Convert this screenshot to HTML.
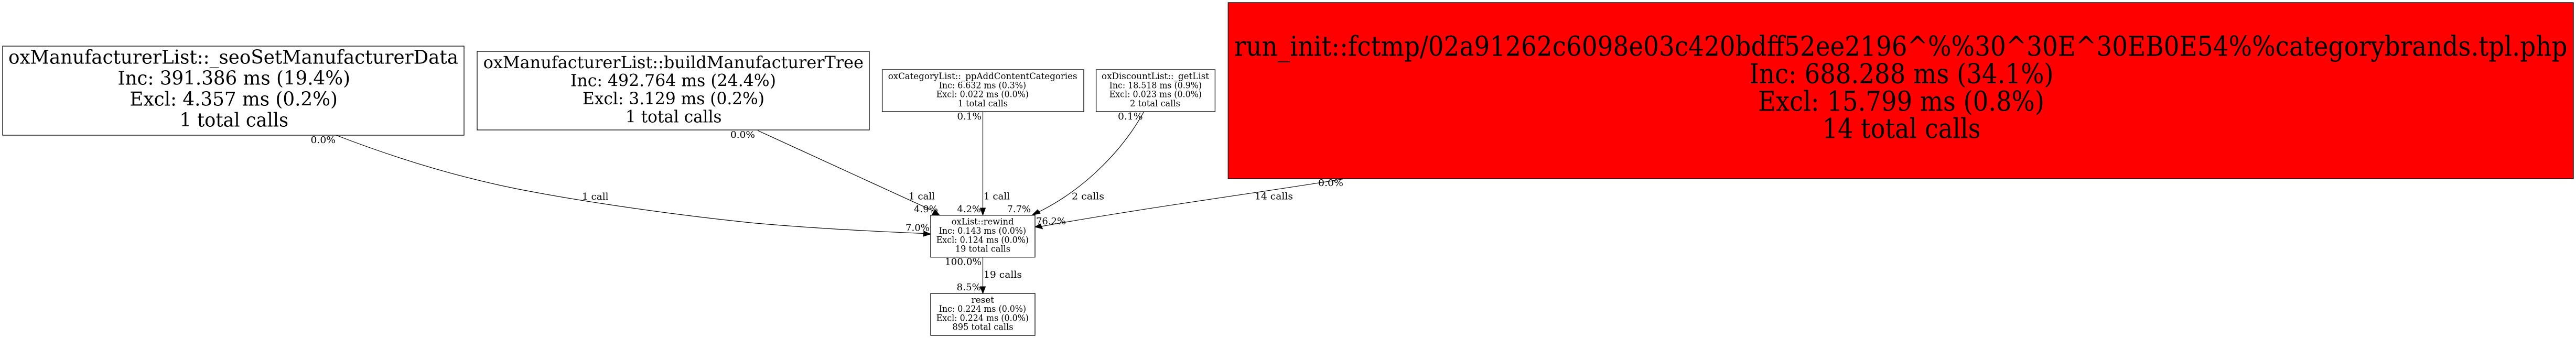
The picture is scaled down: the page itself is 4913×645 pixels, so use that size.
<!DOCTYPE html>
<html lang="en">
<head>
<meta charset="utf-8">
<title>Call graph</title>
<style>
html,body{margin:0;padding:0;background:#fff;width:4913px;height:645px;overflow:hidden}
svg{display:block}
text{font-family:"DejaVu Serif","Liberation Serif",serif;fill:#000}
.a text{font-size:36.5px}
.b text{font-size:32px}
.s text{font-size:16.6px}
.r text{font-size:52.5px}
.l text{font-size:18px}
rect{stroke:#000;stroke-width:1.3}
path.e{fill:none;stroke:#000;stroke-width:1.2}
polygon{fill:#000;stroke:#000;stroke-width:1}
</style>
</head>
<body>
<svg xmlns="http://www.w3.org/2000/svg" width="4913" height="645" viewBox="0 0 4913 645">
<rect x="0" y="0" width="4913" height="645" style="fill:#fff;stroke:none"/>

<!-- nodes -->
<g class="a">
<rect x="5" y="88" width="880" height="170" fill="#fff"/>
<text x="16" y="121.7" textLength="858" lengthAdjust="spacingAndGlyphs">oxManufacturerList::_seoSetManufacturerData</text>
<text x="224.5" y="161.7" textLength="443.5" lengthAdjust="spacingAndGlyphs">Inc: 391.386 ms (19.4%)</text>
<text x="247.4" y="201.7" textLength="396.6" lengthAdjust="spacingAndGlyphs">Excl: 4.357 ms (0.2%)</text>
<text x="342.5" y="241.7" textLength="207.5" lengthAdjust="spacingAndGlyphs">1 total calls</text>
</g>

<g class="b">
<rect x="910" y="98" width="748" height="150" fill="#fff"/>
<text x="921.6" y="130" textLength="725.4" lengthAdjust="spacingAndGlyphs">oxManufacturerList::buildManufacturerTree</text>
<text x="1088" y="164.5" textLength="392" lengthAdjust="spacingAndGlyphs">Inc: 492.764 ms (24.4%)</text>
<text x="1111" y="199" textLength="347" lengthAdjust="spacingAndGlyphs">Excl: 3.129 ms (0.2%)</text>
<text x="1193" y="233.5" textLength="183.5" lengthAdjust="spacingAndGlyphs">1 total calls</text>
</g>

<g class="s">
<rect x="1682.6" y="133" width="384.4" height="80" fill="#fff"/>
<text x="1693.7" y="151" textLength="360.8" lengthAdjust="spacingAndGlyphs">oxCategoryList::_ppAddContentCategories</text>
<text x="1790.6" y="168.3" textLength="166.4" lengthAdjust="spacingAndGlyphs">Inc: 6.632 ms (0.3%)</text>
<text x="1785.7" y="185.6" textLength="176.3" lengthAdjust="spacingAndGlyphs">Excl: 0.022 ms (0.0%)</text>
<text x="1826.8" y="202.9" textLength="95.2" lengthAdjust="spacingAndGlyphs">1 total calls</text>

<rect x="2090.6" y="133" width="226.8" height="80" fill="#fff"/>
<text x="2101" y="151" textLength="205" lengthAdjust="spacingAndGlyphs">oxDiscountList::_getList</text>
<text x="2115.6" y="168.3" textLength="176.4" lengthAdjust="spacingAndGlyphs">Inc: 18.518 ms (0.9%)</text>
<text x="2115.6" y="185.6" textLength="176.4" lengthAdjust="spacingAndGlyphs">Excl: 0.023 ms (0.0%)</text>
<text x="2155" y="202.9" textLength="96" lengthAdjust="spacingAndGlyphs">2 total calls</text>

<rect x="1775" y="410.7" width="199" height="80" fill="#fff"/>
<text x="1814.7" y="428.7" textLength="118.8" lengthAdjust="spacingAndGlyphs">oxList::rewind</text>
<text x="1790.6" y="446" textLength="166.4" lengthAdjust="spacingAndGlyphs">Inc: 0.143 ms (0.0%)</text>
<text x="1785.7" y="463.3" textLength="176.3" lengthAdjust="spacingAndGlyphs">Excl: 0.124 ms (0.0%)</text>
<text x="1821.9" y="480.6" textLength="105.1" lengthAdjust="spacingAndGlyphs">19 total calls</text>

<rect x="1775" y="560" width="199" height="80" fill="#fff"/>
<text x="1852.7" y="577.8" textLength="43.3" lengthAdjust="spacingAndGlyphs">reset</text>
<text x="1790.6" y="595.1" textLength="166.4" lengthAdjust="spacingAndGlyphs">Inc: 0.224 ms (0.0%)</text>
<text x="1785.7" y="612.4" textLength="176.3" lengthAdjust="spacingAndGlyphs">Excl: 0.224 ms (0.0%)</text>
<text x="1816.5" y="629.7" textLength="116.1" lengthAdjust="spacingAndGlyphs">895 total calls</text>
</g>

<g class="r">
<rect x="2342.3" y="5" width="2565.7" height="336" fill="#ff0000"/>
<text x="2354" y="106.7" textLength="2542.5" lengthAdjust="spacingAndGlyphs">run_init::fctmp/02a91262c6098e03c420bdff52ee2196^%%30^30E^30EB0E54%%categorybrands.tpl.php</text>
<text x="3336.5" y="159.2" textLength="580.1" lengthAdjust="spacingAndGlyphs">Inc: 688.288 ms (34.1%)</text>
<text x="3353" y="211.5" textLength="546" lengthAdjust="spacingAndGlyphs">Excl: 15.799 ms (0.8%)</text>
<text x="3475.8" y="263.5" textLength="301.7" lengthAdjust="spacingAndGlyphs">14 total calls</text>
</g>

<!-- edges -->
<path class="e" d="M641,258 C755,302 870,337 984,360 C1133,389 1282,409 1431,425 C1541,435 1652,441 1762,445.5"/>
<polygon points="1775,446.7 1762,441 1761,451"/>

<path class="e" d="M1445,249 L1781,403"/>
<polygon points="1792,410.7 1777,410.5 1783.5,400"/>

<path class="e" d="M1874.5,213 L1874.5,397"/>
<polygon points="1874.5,410.7 1869.5,397 1879.5,397"/>

<path class="e" d="M2181.7,213 C2145,280 2075,358 1980,405"/>
<polygon points="1968,410.7 1979,400 1984,407"/>

<path class="e" d="M2561,341.7 C2400,368 2200,394 1986,432"/>
<polygon points="1974,433 1984,427 1988.5,436.7"/>

<path class="e" d="M1874.5,490.7 L1874.5,547"/>
<polygon points="1874.5,560 1869.5,547 1879.5,547"/>

<!-- edge labels -->
<g class="l">
<text x="592.5" y="273" textLength="47.5" lengthAdjust="spacingAndGlyphs">0.0%</text>
<text x="1110" y="381" textLength="50.5" lengthAdjust="spacingAndGlyphs">1 call</text>
<text x="1727" y="440.7" textLength="46" lengthAdjust="spacingAndGlyphs">7.0%</text>
<text x="1393" y="263" textLength="47" lengthAdjust="spacingAndGlyphs">0.0%</text>
<text x="1733" y="380.7" textLength="50" lengthAdjust="spacingAndGlyphs">1 call</text>
<text x="1743" y="405" textLength="46" lengthAdjust="spacingAndGlyphs">4.9%</text>
<text x="1825.4" y="228" textLength="46.6" lengthAdjust="spacingAndGlyphs">0.1%</text>
<text x="1876" y="380.7" textLength="50" lengthAdjust="spacingAndGlyphs">1 call</text>
<text x="1825.4" y="405" textLength="45.6" lengthAdjust="spacingAndGlyphs">4.2%</text>
<text x="2132" y="228" textLength="47.5" lengthAdjust="spacingAndGlyphs">0.1%</text>
<text x="2044" y="380.7" textLength="62" lengthAdjust="spacingAndGlyphs">2 calls</text>
<text x="1920.5" y="405" textLength="45.5" lengthAdjust="spacingAndGlyphs">7.7%</text>
<text x="2514" y="355" textLength="48" lengthAdjust="spacingAndGlyphs">0.0%</text>
<text x="2393" y="380.7" textLength="73" lengthAdjust="spacingAndGlyphs">14 calls</text>
<text x="1976" y="428" textLength="57" lengthAdjust="spacingAndGlyphs">76.2%</text>
<text x="1802" y="505.7" textLength="70" lengthAdjust="spacingAndGlyphs">100.0%</text>
<text x="1876" y="530" textLength="73" lengthAdjust="spacingAndGlyphs">19 calls</text>
<text x="1824.5" y="554" textLength="46.5" lengthAdjust="spacingAndGlyphs">8.5%</text>
</g>
</svg>
</body>
</html>
